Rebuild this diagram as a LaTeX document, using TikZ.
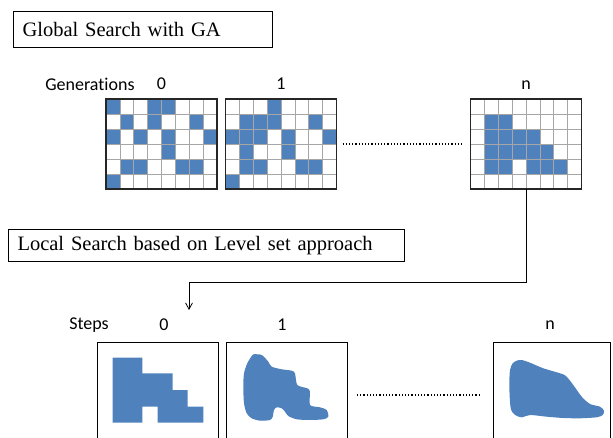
\documentclass[tikz,border=0pt]{standalone}
\usepackage{fontspec}
\setmainfont{Liberation Serif}
\newfontfamily\labelfont[Ligatures=NoCommon]{Carlito}
\usetikzlibrary{positioning,arrows.meta}
\definecolor{cellblue}{HTML}{4F81BD}

\begin{document}
\begin{tikzpicture}[
    x=1pt, y=-1pt,
    stage/.style={draw, line width=1pt, anchor=north west, inner xsep=9pt, inner ysep=0pt,
        text width=#1, minimum height=36pt, align=left, font=\fontsize{20.5}{24}\selectfont},
    lbl/.style={font=\labelfont\fontsize{18}{20}\selectfont, inner sep=0pt},
    genframe/.style={minimum width=111pt, minimum height=90pt, inner sep=0pt, outer sep=0pt},
    stepframe/.style={draw, line width=1pt, minimum width=#1, minimum height=100pt, inner sep=0pt, outer sep=0pt},
    cellline/.style={gray!70, line width=0.6pt},
    arr/.style={-{Straight Barb[length=2.2mm, width=2.4mm]}, line width=0.8pt},
    dots/.style={dotted, line width=1.2pt}
]
\useasboundingbox (0,0) rectangle (613,438);
\clip (0,0) rectangle (613,438);

% stage titles
\node[stage=241pt] (global) at (13,11) {Global Search with GA};
\node[stage=378pt, minimum height=32pt] (local) at (8,229) {Local Search based on Level set approach};

% GA populations
\node[genframe] (gen0) at (161.5,144) {};
\node[genframe] (gen1) at (281,144) {};
\node[genframe] (genn) at (526,144) {};

\foreach \g/\cells in {
    gen0/{0/0,3/0,4/0,1/1,3/1,6/1,0/2,2/2,4/2,7/2,4/3,1/4,2/4,5/4,6/4,0/5},
    gen1/{3/0,1/1,2/1,3/1,6/1,0/2,1/2,2/2,4/2,7/2,1/3,4/3,1/4,2/4,5/4,6/4,0/5},
    genn/{1/1,2/1,1/2,2/2,3/2,4/2,1/3,2/3,3/3,4/3,5/3,1/4,2/4,4/4,5/4,6/4}} {
  \begin{scope}[shift={(\g.north west)}]
    \foreach \c/\r in \cells
      \fill[cellblue] (\c*13.875,\r*15) rectangle ++(13.875,15);
    \foreach \i in {1,...,7}
      \draw[cellline] (\i*13.875,0) -- (\i*13.875,90);
    \foreach \j in {1,...,5}
      \draw[cellline] (0,\j*15) -- (111,\j*15);
    \draw[line width=1.3pt, black!85] (0,0) rectangle (111,90);
  \end{scope}
}

\node[lbl, above=9pt of gen0] (g0) {0};
\node[lbl, above=9pt of gen1] (g1) {1};
\node[lbl, above=9pt of genn] (gn) {n};
\node[lbl, left=22pt of g0] (gens) {Generations};

\draw[dots] ([xshift=6pt]gen1.east) -- ([xshift=-8pt]genn.west);

% level set steps
\node[stepframe=121pt] (step0) at (157.5,392) {};
\node[stepframe=121pt] (step1) at (286.5,392) {};
\node[stepframe=117pt] (stepn) at (551.5,392) {};

\node[lbl] (s0) at (164,325) {0};
\node[lbl] (s1) at (282,325) {1};
\node[lbl] (sn) at (550,325) {n};
\node[lbl] (steps) at (89,325) {Steps};

\draw[dots] ([xshift=10pt, yshift=-3pt]step1.east) -- ([xshift=-14pt, yshift=-3pt]stepn.west);

\fill[cellblue] (112.7,357.7) -- (142.3,357.7) -- (142.3,373.3) -- (172.7,373.3)
  -- (172.7,390) -- (187.7,390) -- (187.7,406.7) -- (203.3,406.7) -- (203.3,422.7)
  -- (157.7,422.7) -- (157.7,406.7) -- (142.3,406.7) -- (142.3,422.7) -- (112.7,422.7) -- cycle;

\fill[cellblue] plot[smooth cycle, tension=0.45] coordinates {
  (253.3,354.3) (261.7,355) (268.3,361.7) (271.7,366.7) (281.7,369.3) (291.7,370.7)
  (295,373.3) (297.3,385) (307.3,388.3) (310,391.7) (310,405) (320,407.3)
  (326.7,410) (328.3,416.7) (323.3,419.3) (310,420) (296.7,419.3) (288.3,416)
  (285,411.7) (281.7,408.3) (276.7,407.3) (274,410) (272.7,416.7) (270,420)
  (260,420.7) (251.7,418.3) (246.7,413.3) (244,403.3) (243.3,386.7) (244,373.3)
  (247.3,363.3) (251.7,356)};

\fill[cellblue] plot[smooth cycle, tension=0.45] coordinates {
  (516.7,360.7) (521.7,360) (530,362.7) (543.3,368.3) (560,373.3) (566,376)
  (573.3,385) (581.7,396.7) (590,404) (600,406.7) (604,410.7) (602.7,415)
  (596.7,417.3) (580,418.3) (563.3,418) (546.7,416.7) (530,415) (521.7,417.3)
  (515,415) (510.7,408.3) (509.3,386.7) (510,370) (512.7,363.3)};

% hand-over from GA to level set
\coordinate (lsin) at (189,310);
\draw[arr] (genn.south) -- ++(0,93) -| (lsin);

\end{tikzpicture}
\end{document}
